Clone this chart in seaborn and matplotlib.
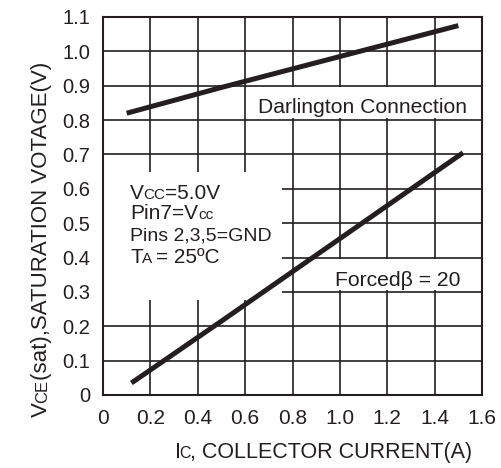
import matplotlib
matplotlib.use("Agg")
import matplotlib.pyplot as plt
import seaborn as sns
from matplotlib.patches import Rectangle
from matplotlib.transforms import IdentityTransform

# data
darl_x = [0.1, 0.5, 1.0, 1.5]
darl_y = [0.82, 0.895, 0.985, 1.075]
forced_x = [0.12, 0.5, 1.0, 1.52]
forced_y = [0.035, 0.215, 0.455, 0.705]

x_ticks = [0, 0.2, 0.4, 0.6, 0.8, 1.0, 1.2, 1.4, 1.6]
x_labels = ["0", "0.2", "0.4", "0.6", "0.8", "1.0", "1.2", "1.4", "1.6"]
y_ticks = [0, 0.1, 0.2, 0.3, 0.4, 0.5, 0.6, 0.7, 0.8, 0.9, 1.0, 1.1]
y_labels = ["0", "0.1", "0.2", "0.3", "0.4", "0.5", "0.6", "0.7", "0.8", "0.9", "1.0", "1.1"]

ink = "#231f20"

sns.set_style("white")
plt.rcParams["font.family"] = ["Liberation Sans", "DejaVu Sans"]

fig = plt.figure(figsize=(5.01, 4.68), dpi=100)
pos = [103 / 501, 73 / 468, 379 / 501, 378 / 468]
ax = fig.add_axes(pos)
ax.set_xlim(0, 1.6)
ax.set_ylim(0, 1.1)
ax.set_xticks(x_ticks)
ax.set_yticks(y_ticks)
ax.grid(True, color=ink, linewidth=1.2)
ax.set_axisbelow(True)
ax.tick_params(length=0, labelleft=False, labelbottom=False)
for s in ax.spines.values():
    s.set_visible(False)

# white label boxes hiding the grid (kept just inside the grid lines)
e = 0.005
ax.add_patch(Rectangle((0, 0.276), 0.755, 0.374, facecolor="white", edgecolor="none", zorder=1))
ax.add_patch(Rectangle((0.6 + e, 0.8 + e), 1.0 - 2 * e, 0.1 - 2 * e, facecolor="white", edgecolor="none", zorder=1))
ax.add_patch(Rectangle((0.8 + e, 0.3 + e), 0.8 - 2 * e, 0.1 - 2 * e, facecolor="white", edgecolor="none", zorder=1))

sns.lineplot(x=darl_x, y=darl_y, ax=ax, color=ink, linewidth=3.6, zorder=3)
sns.lineplot(x=forced_x, y=forced_y, ax=ax, color=ink, linewidth=3.6, zorder=3)
for ln in ax.lines:
    ln.set_solid_capstyle("butt")

# overlay axes for spines and inward ticks drawn above the boxes
top = fig.add_axes(pos, sharex=ax, sharey=ax, facecolor="none")
top.set_xticks(x_ticks, x_labels)
top.set_yticks(y_ticks, y_labels)
top.tick_params(direction="in", length=11, width=1.2, color=ink, labelcolor=ink, pad=9)
top.tick_params(axis="x", labelsize=15, length=0, pad=10)
top.tick_params(axis="y", labelsize=14.5)
for s in top.spines.values():
    s.set_visible(True)
    s.set_color(ink)
    s.set_linewidth(1.5)

renderer = fig.canvas.get_renderer()


def rich_text(px, py, parts, rotation=0):
    # place pieces of different size one after another on one baseline (pixels)
    for s, size, gap in parts:
        if rotation:
            py += gap
        else:
            px += gap
        t = fig.text(px, py, s, fontsize=size, color=ink, ha="left", va="baseline",
                     rotation=rotation, rotation_mode="anchor", transform=IdentityTransform(), zorder=5)
        bb = t.get_window_extent(renderer)
        if rotation:
            py += bb.height
        else:
            px += bb.width


def data_px(x, y):
    return ax.transData.transform((x, y))


rich_text(47, 51, [("V", 16, 0), ("CE", 12, -1), ("(sat),SATURATION VOTAGE(V)", 16, -0.5)], rotation=90)
rich_text(175, 10, [("I", 15.5, 0), ("C", 11.5, -1.5), (", COLLECTOR CURRENT(A)", 15.5, -0.5)])

x0, y0 = data_px(0.114, 0.57)
rich_text(x0, y0, [("V", 15, 0), ("CC", 11, -0.5), ("=5.0V", 15, 0)])
x0, y0 = data_px(0.114, 0.512)
rich_text(x0, y0, [("Pin7=V", 15, 0), ("cc", 11, 0)])
x0, y0 = data_px(0.114, 0.451)
rich_text(x0, y0, [("Pins 2,3,5=GND", 14, 0)])
x0, y0 = data_px(0.114, 0.384)
rich_text(x0, y0, [("T", 15, 0), ("A", 11, -0.5), ("= 25ºC", 15, 4)])

x0, y0 = data_px(0.654, 0.82)
rich_text(x0, y0, [("Darlington Connection", 15.2, 0)])
x0, y0 = data_px(0.979, 0.317)
rich_text(x0, y0, [("Forcedβ = 20", 15.2, 0)])

fig.savefig("out.png", dpi=100)
